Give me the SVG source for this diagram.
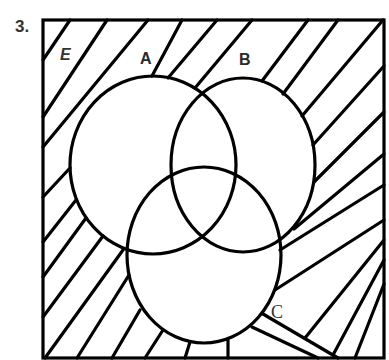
<svg xmlns="http://www.w3.org/2000/svg" width="389" height="360" viewBox="0 0 389 360">
<style>
.ln{stroke:#000;stroke-width:3.2;stroke-linecap:round;fill:none}
.cir{stroke:#000;stroke-width:3.2;fill:none}
.lbl{font-family:"Liberation Sans",Arial,sans-serif;font-size:16px;font-weight:bold;fill:#2a2a2a}
</style>
<rect x="0" y="0" width="389" height="360" fill="#fff"/>
<text x="15" y="32" class="lbl" style="font-size:17px;fill:#333">3.</text>
<g id="universe"><rect x="43" y="20" width="341" height="338" fill="none" stroke="#000" stroke-width="3.2"/>
<text x="60" y="60" class="lbl" font-style="italic" style="font-size:16px;fill:#333">E</text></g>
<g id="hatching" class="ln">
<line x1="43" y1="60" x2="70" y2="20"/>
<line x1="43" y1="117" x2="107" y2="20"/>
<line x1="43" y1="147" x2="148" y2="20"/>
<line x1="152" y1="76" x2="182" y2="20"/>
<line x1="168" y1="78" x2="217" y2="20"/>
<line x1="195" y1="88" x2="252" y2="20"/>
<line x1="262" y1="81" x2="308" y2="20"/>
<line x1="283" y1="94" x2="338" y2="20"/>
<line x1="302" y1="116" x2="383" y2="20"/>
<line x1="313" y1="145" x2="384" y2="66"/>
<line x1="314" y1="182" x2="384" y2="112"/>
<line x1="294" y1="229" x2="384" y2="154"/>
<line x1="280" y1="250" x2="384" y2="185"/>
<line x1="275" y1="290" x2="384" y2="220"/>
<line x1="305" y1="338" x2="384" y2="240"/>
<line x1="333" y1="355" x2="384" y2="260"/>
<line x1="355" y1="358" x2="384" y2="284"/>
<line x1="263" y1="314" x2="338" y2="358"/>
<line x1="252" y1="327" x2="318" y2="358"/>
<line x1="228" y1="340" x2="228" y2="358"/>
<line x1="185" y1="358" x2="190" y2="342"/>
<line x1="145" y1="358" x2="163" y2="330"/>
<line x1="112" y1="358" x2="140" y2="310"/>
<line x1="77" y1="358" x2="129" y2="275"/>
<line x1="45" y1="358" x2="123" y2="250"/>
<line x1="43" y1="317" x2="103" y2="236"/>
<line x1="43" y1="277" x2="86" y2="218"/>
<line x1="43" y1="242" x2="76" y2="200"/>
<line x1="43" y1="197" x2="70" y2="168"/>
</g>
<g id="A"><ellipse class="cir" cx="153" cy="165" rx="83" ry="89"/><text x="140" y="64" class="lbl">A</text></g>
<g id="B"><ellipse class="cir" cx="243" cy="165" rx="72" ry="87"/><text x="239" y="65" class="lbl">B</text></g>
<g id="C"><ellipse class="cir" cx="204" cy="255" rx="77" ry="88"/><text x="271" y="318" style="font-family:'Liberation Serif',serif;font-size:18px;fill:#333">C</text></g>
</svg>
